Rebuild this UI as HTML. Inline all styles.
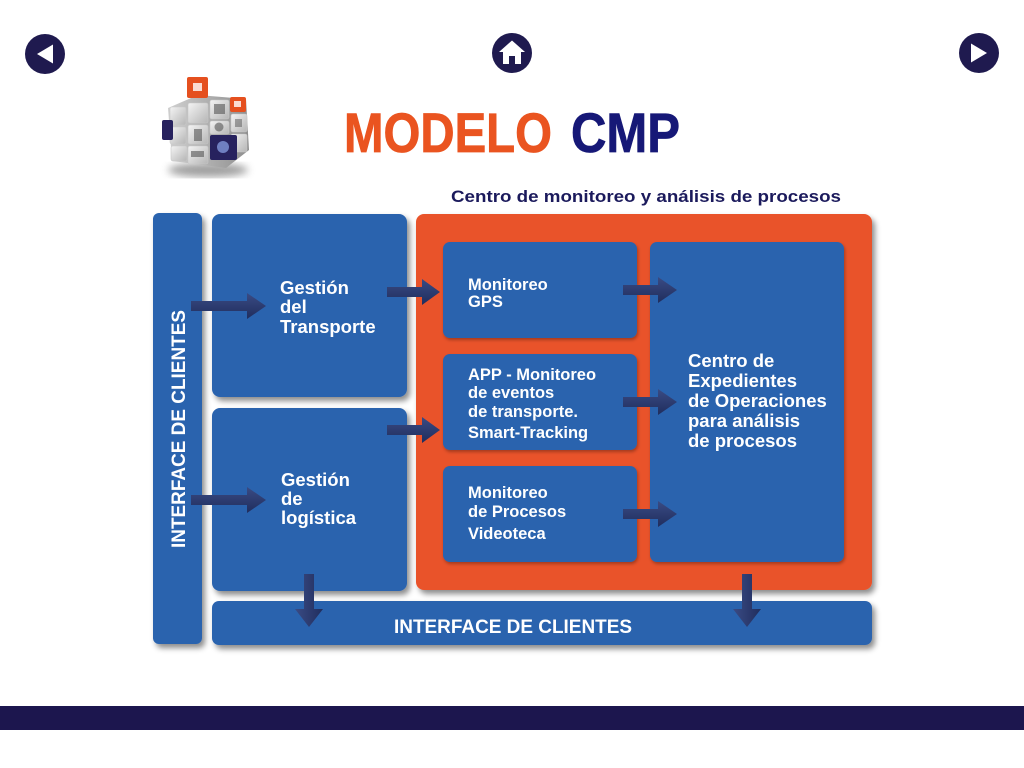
<!DOCTYPE html>
<html><head><meta charset="utf-8"><style>
html,body{margin:0;padding:0;background:#fff;width:1024px;height:768px;overflow:hidden;}
svg{display:block;}
text{font-family:"Liberation Sans",Arial,sans-serif;font-weight:bold;}
</style></head><body>
<svg width="1024" height="768" viewBox="0 0 1024 768" xmlns="http://www.w3.org/2000/svg">
<defs>
<filter id="sh" x="-10%" y="-10%" width="130%" height="130%">
<feDropShadow dx="3" dy="4" stdDeviation="3" flood-color="#000" flood-opacity="0.45"/>
</filter>
<filter id="sh2" x="-10%" y="-10%" width="130%" height="130%">
<feDropShadow dx="1" dy="2" stdDeviation="1.5" flood-color="#000" flood-opacity="0.3"/>
</filter>
<filter id="blur"><feGaussianBlur stdDeviation="4"/></filter>
<linearGradient id="ar" x1="0" y1="0" x2="0" y2="1"><stop offset="0" stop-color="#3a4b84"/><stop offset="1" stop-color="#202d5d"/></linearGradient>
<linearGradient id="ard" x1="0" y1="0" x2="1" y2="0"><stop offset="0" stop-color="#3a4b84"/><stop offset="1" stop-color="#202d5d"/></linearGradient>
<linearGradient id="gr" x1="0" y1="0" x2="1" y2="1"><stop offset="0" stop-color="#f4f4f4"/><stop offset="1" stop-color="#b5b5b5"/></linearGradient>
<linearGradient id="gs" x1="0" y1="0" x2="1" y2="0"><stop offset="0" stop-color="#d0d0d0"/><stop offset="1" stop-color="#8e8e8e"/></linearGradient>
</defs>

<!-- nav circles -->
<circle cx="45" cy="54" r="20" fill="#1f1a4f"/>
<polygon points="37,54 53,44.5 53,63.5" fill="#fff"/>
<circle cx="512" cy="53" r="20" fill="#1f1a4f"/>
<polygon points="499,52 512,40.5 525,52" fill="#fff"/>
<rect x="503" y="50" width="18" height="14" fill="#fff"/>
<rect x="509" y="56" width="6" height="8" fill="#1f1a4f"/>
<circle cx="979" cy="53" r="20" fill="#1f1a4f"/>
<polygon points="987,53 971,43.5 971,62.5" fill="#fff"/>

<!-- cube logo -->
<ellipse cx="208" cy="170" rx="40" ry="7" fill="#888" filter="url(#blur)" opacity="0.8"/>
<polygon points="168,108 198,95 246,99 249,150 226,168 172,161" fill="url(#gs)"/>
<g fill="url(#gr)" stroke="#c8c8c8" stroke-width="0.6">
<rect x="170" y="107" width="16" height="18" rx="2"/>
<rect x="170" y="127" width="16" height="17" rx="2"/>
<rect x="171" y="146" width="16" height="15" rx="2"/>
<rect x="188" y="103" width="20" height="20" rx="2"/>
<rect x="188" y="125" width="20" height="19" rx="2"/>
<rect x="188" y="146" width="20" height="18" rx="2"/>
<rect x="210" y="100" width="19" height="19" rx="2"/>
<rect x="210" y="121" width="19" height="13" rx="2"/>
<rect x="231" y="114" width="16" height="18" rx="2"/>
<rect x="231" y="134" width="16" height="18" rx="2"/>
</g>
<rect x="214" y="104" width="11" height="10" fill="#555" opacity="0.6"/>
<rect x="194" y="129" width="8" height="12" fill="#555" opacity="0.6"/>
<circle cx="219" cy="127" r="4.5" fill="#555" opacity="0.6"/>
<rect x="191" y="151" width="13" height="6" fill="#555" opacity="0.6"/>
<rect x="235" y="119" width="7" height="8" fill="#555" opacity="0.5"/>
<rect x="187" y="77" width="21" height="21" rx="2" fill="#e5501f"/>
<rect x="193" y="83" width="9" height="8" fill="#fff" opacity="0.8"/>
<rect x="230" y="97" width="16" height="15" rx="2" fill="#e5501f"/>
<rect x="234" y="101" width="7" height="6" fill="#fff" opacity="0.8"/>
<rect x="162" y="120" width="11" height="20" rx="2" fill="#27225e"/>
<rect x="210" y="135" width="27" height="25" rx="2" fill="#27225e"/>
<circle cx="223" cy="147" r="6" fill="#6f7fc0"/>

<!-- title -->
<text x="344" y="152" font-size="56" fill="#ea5420" stroke="#ea5420" stroke-width="0.8" textLength="208" lengthAdjust="spacingAndGlyphs">MODELO</text>
<text x="571" y="152" font-size="56" fill="#161877" stroke="#161877" stroke-width="0.8" textLength="109" lengthAdjust="spacingAndGlyphs">CMP</text>
<text x="451" y="202" font-size="17" fill="#1b1a5c" textLength="390" lengthAdjust="spacingAndGlyphs">Centro de monitoreo y análisis de procesos</text>

<!-- main boxes -->
<g filter="url(#sh)">
<rect x="153" y="213" width="49" height="431" rx="6" fill="#2b63ae"/>
<rect x="212" y="214" width="195" height="183" rx="8" fill="#2b63ae"/>
<rect x="212" y="408" width="195" height="183" rx="8" fill="#2b63ae"/>
<rect x="416" y="214" width="456" height="376" rx="8" fill="#e9532b"/>
<rect x="212" y="601" width="660" height="44" rx="7" fill="#2b63ae"/>
</g>
<g filter="url(#sh2)">
<rect x="443" y="242" width="194" height="96" rx="7" fill="#2b63ae"/>
<rect x="443" y="354" width="194" height="96" rx="7" fill="#2b63ae"/>
<rect x="443" y="466" width="194" height="96" rx="7" fill="#2b63ae"/>
<rect x="650" y="242" width="194" height="320" rx="7" fill="#2b63ae"/>
</g>

<!-- arrows -->
<g fill="url(#ar)">
<polygon points="191,301 247,301 247,293 266,306 247,319 247,311 191,311"/>
<polygon points="191,495 247,495 247,487 266,500 247,513 247,505 191,505"/>
<polygon points="387,287 422,287 422,279 440,292 422,305 422,297 387,297"/>
<polygon points="387,425 422,425 422,417 440,430 422,443 422,435 387,435"/>
<polygon points="623,285 658,285 658,277 677,290 658,303 658,295 623,295"/>
<polygon points="623,397 658,397 658,389 677,402 658,415 658,407 623,407"/>
<polygon points="623,509 658,509 658,501 677,514 658,527 658,519 623,519"/>
</g>
<g fill="url(#ard)">
<polygon points="304,574 314,574 314,609 323,609 309,627 295,609 304,609"/>
<polygon points="742,574 752,574 752,609 761,609 747,627 733,609 742,609"/>
</g>

<!-- labels -->
<g fill="#fff">
<text font-size="18.5"><tspan x="280" y="294">Gestión</tspan><tspan x="280" y="313">del</tspan><tspan x="280" y="333">Transporte</tspan></text>
<text font-size="18.5"><tspan x="281" y="486">Gestión</tspan><tspan x="281" y="505">de</tspan><tspan x="281" y="524">logística</tspan></text>
<text font-size="16.5"><tspan x="468" y="290">Monitoreo</tspan><tspan x="468" y="307">GPS</tspan></text>
<text font-size="16.5"><tspan x="468" y="380">APP - Monitoreo</tspan><tspan x="468" y="398">de eventos</tspan><tspan x="468" y="417">de transporte.</tspan><tspan x="468" y="438">Smart-Tracking</tspan></text>
<text font-size="16.5"><tspan x="468" y="498">Monitoreo</tspan><tspan x="468" y="517">de Procesos</tspan><tspan x="468" y="539">Videoteca</tspan></text>
<text font-size="18.5"><tspan x="688" y="367">Centro de</tspan><tspan x="688" y="387">Expedientes</tspan><tspan x="688" y="407">de Operaciones</tspan><tspan x="688" y="427">para análisis</tspan><tspan x="688" y="447">de procesos</tspan></text>
<text x="394" y="633" font-size="19" textLength="238" lengthAdjust="spacingAndGlyphs">INTERFACE DE CLIENTES</text>
<text transform="translate(185,548) rotate(-90)" x="0" y="0" font-size="19" textLength="238" lengthAdjust="spacingAndGlyphs">INTERFACE DE CLIENTES</text>
</g>

<!-- bottom band -->
<rect x="0" y="706" width="1024" height="24" fill="#1c164e"/>
</svg>
</body></html>
